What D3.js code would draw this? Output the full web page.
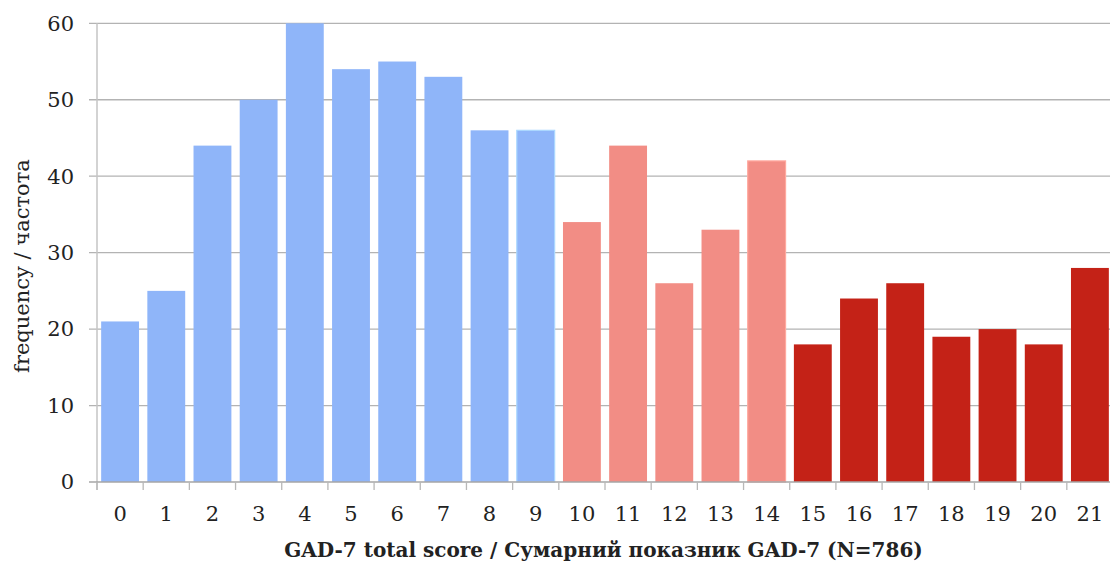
<!DOCTYPE html>
<html>
<head>
<meta charset="utf-8">
<script src="https://cdn.jsdelivr.net/npm/d3@7"></script>
<style>
  html, body { margin: 0; padding: 0; background: #fff; }
  svg { display: block; }
  text { font-family: "DejaVu Serif", "Liberation Serif", serif; fill: #222; }
</style>
</head>
<body>
<svg id="chart" width="1110" height="563"></svg>
<script>
const categories = ["0","1","2","3","4","5","6","7","8","9","10","11","12","13","14","15","16","17","18","19","20","21"];
const frequency = [21,25,44,50,60,54,55,53,46,46,34,44,26,33,42,18,24,26,19,20,18,28];
const groups = ["low","low","low","low","low","low","low","low","low","low","mid","mid","mid","mid","mid","high","high","high","high","high","high","high"];
const yTicks = [0,10,20,30,40,50,60];
const groupColors = { low: "#8fb5f9", mid: "#f28d85", high: "#c42217" };
const outlined = ["9","14"];
const xTitle = "GAD-7 total score / Сумарний показник GAD-7 (N=786)";
const yTitle = "frequency / частота";

const svg = d3.select("#chart");
const plotLeft = 97, plotRight = 1113, plotTop = 23.3, plotBottom = 482;

const x = d3.scaleBand().domain(categories).range([plotLeft, plotRight]).paddingInner(0.18).paddingOuter(0.09);
const y = d3.scaleLinear().domain([0, 60]).range([plotBottom, plotTop]);

// gridlines
svg.append("g").selectAll("line").data(yTicks.filter(d => d > 0)).join("line")
  .attr("x1", plotLeft - 8).attr("x2", 1110)
  .attr("y1", d => y(d)).attr("y2", d => y(d))
  .attr("stroke", "#b3b3b3").attr("stroke-width", 1.3);

// y axis line
svg.append("line").attr("x1", plotLeft).attr("x2", plotLeft).attr("y1", plotTop).attr("y2", plotBottom + 8)
  .attr("stroke", "#c4c4c4").attr("stroke-width", 1.5);

// bars
svg.append("g").selectAll("rect").data(categories).join("rect")
  .attr("x", d => x(d))
  .attr("width", x.bandwidth())
  .attr("y", (d, i) => y(frequency[i]))
  .attr("height", (d, i) => plotBottom - y(frequency[i]))
  .attr("fill", (d, i) => groupColors[groups[i]])
  .attr("stroke", (d, i) => outlined.includes(d) ? d3.color(groupColors[groups[i]]).brighter(0.5) : "none")
  .attr("stroke-width", 1.2);

// x axis
const step = x.step();
const boundaries = d3.range(categories.length + 1).map(i => plotLeft + i * step);
svg.append("line").attr("x1", plotLeft - 8).attr("x2", 1110).attr("y1", plotBottom).attr("y2", plotBottom)
  .attr("stroke", "#a6a6a6").attr("stroke-width", 1.3);
svg.append("g").selectAll("line").data(boundaries).join("line")
  .attr("x1", d => d).attr("x2", d => d).attr("y1", plotBottom).attr("y2", plotBottom + 8)
  .attr("stroke", "#b8b8b8").attr("stroke-width", 1.3);

// y tick labels
svg.append("g").selectAll("text").data(yTicks).join("text")
  .attr("x", 74).attr("y", d => y(d)).attr("dy", "0.35em")
  .attr("text-anchor", "end").attr("font-size", 21).text(d => d);

// x tick labels
svg.append("g").selectAll("text").data(categories).join("text")
  .attr("x", d => x(d) + x.bandwidth() / 2).attr("y", 514).attr("dy", "0.35em")
  .attr("text-anchor", "middle").attr("font-size", 21).text(d => d);

// axis titles
svg.append("text").attr("x", (plotLeft + 1110) / 2).attr("y", 550).attr("dy", "0.35em")
  .attr("text-anchor", "middle").attr("font-size", 20).attr("font-weight", "bold").text(xTitle);
svg.append("text").attr("transform", "translate(22,266) rotate(-90)").attr("dy", "0.35em")
  .attr("text-anchor", "middle").attr("font-size", 21).text(yTitle);
</script>
</body>
</html>
